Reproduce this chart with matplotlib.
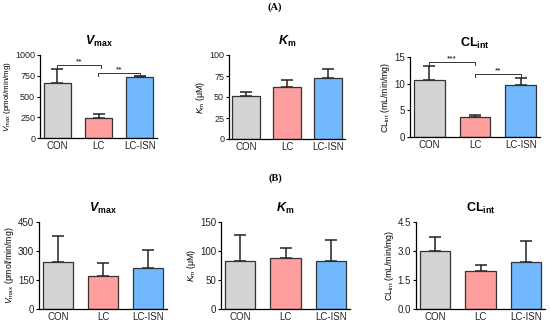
import numpy as np
import matplotlib
matplotlib.use("Agg")
import matplotlib.pyplot as plt

plt.rcParams["font.family"] = "Liberation Sans"
plt.rcParams["mathtext.fontset"] = "custom"
plt.rcParams["mathtext.rm"] = "Liberation Sans"
plt.rcParams["mathtext.it"] = "Liberation Sans:italic"
plt.rcParams["mathtext.bf"] = "Liberation Sans:bold"
plt.rcParams["mathtext.bfit"] = "Liberation Sans:bold:italic"

groups = ["CON", "LC", "LC-ISN"]
colors = ["#d4d4d4", "#ff9e9e", "#72b8ff"]

# (A)
a_vmax = [660, 240, 735]
a_vmax_err = [175, 55, 15]
a_km = [51, 62, 73]
a_km_err = [5.5, 8, 10.5]
a_cl = [10.7, 3.8, 9.8]
a_cl_err = [2.7, 0.4, 1.3]

# (B)
b_vmax = [245, 173, 210]
b_vmax_err = [135, 65, 95]
b_km = [82, 88, 82]
b_km_err = [46, 17, 37]
b_cl = [3.0, 1.95, 2.42]
b_cl_err = [0.7, 0.33, 1.1]

titles = [r"$\mathbfit{V}_{\mathbf{max}}$", r"$\mathbfit{K}_{\mathbf{m}}$", r"$\mathbf{CL}_{\mathbf{int}}$"]
ylabels = [r"$V_{\mathrm{max}}$ (pmol/min/mg)", r"$K_{\mathrm{m}}$ ($\mathrm{\mu}$M)",
           r"$\mathrm{CL}_{\mathrm{int}}$ (mL/min/mg)"]

W, H = 550, 325
fig = plt.figure(figsize=(5.5, 3.25), dpi=100)


def add_ax(left, right, bottom, top):
    return fig.add_axes([left / W, 1 - bottom / H, (right - left) / W, (bottom - top) / H])


def draw(ax, vals, errs, ymax, ticks, ticklabels, title, ylabel, tsize=7, lsize=6.3):
    x = np.arange(3)
    ax.bar(x, vals, width=0.67, color=colors, edgecolor="#333333", linewidth=0.9, zorder=2)
    ax.errorbar(x, vals, yerr=[np.zeros(3), errs], fmt="none", ecolor="#222222",
                elinewidth=1.1, capsize=4.3, capthick=1.1, zorder=1)
    ax.set_xlim(-0.42, 2.42)
    ax.set_ylim(0, ymax)
    ax.set_yticks(ticks)
    ax.set_yticklabels(ticklabels)
    ax.set_xticks(x)
    ax.set_xticklabels(groups)
    ax.tick_params(axis="x", length=0, labelsize=7, pad=2, colors="#222222")
    ax.tick_params(axis="y", length=2.5, width=0.8, labelsize=tsize, pad=1, labelcolor="#222222")
    for s in ["top", "right"]:
        ax.spines[s].set_visible(False)
    for s in ["left", "bottom"]:
        ax.spines[s].set_linewidth(0.9)
    ax.set_title(title, fontsize=9, pad=7)
    ax.set_ylabel(ylabel, fontsize=lsize, labelpad=1.5)


def bracket(ax, x1, x2, y, drop, text):
    ax.plot([x1, x1, x2, x2], [y - drop, y, y, y - drop], color="#333333", lw=0.7)
    ax.text((x1 + x2) / 2, y, text, ha="center", va="bottom", fontsize=6)


ax = add_ax(40, 157, 138, 55)
draw(ax, a_vmax, a_vmax_err, 1000, [0, 250, 500, 750, 1000],
     ["0", "250", "500", "750", "1000"], titles[0], ylabels[0], tsize=6.5, lsize=5.8)
bracket(ax, 0, 1.05, 880, 35, "**")
bracket(ax, 0.98, 2, 783, 35, "**")

ax = add_ax(229, 345, 139, 55)
draw(ax, a_km, a_km_err, 100, [0, 25, 50, 75, 100],
     ["0", "25", "50", "75", "100"], titles[1], ylabels[1], tsize=6.5)

ax = add_ax(410, 540, 137, 57)
draw(ax, a_cl, a_cl_err, 15, [0, 5, 10, 15],
     ["0", "5", "10", "15"], titles[2], ylabels[2])
bracket(ax, 0, 1, 14.06, 0.55, "***")
bracket(ax, 1, 2, 11.8, 0.55, "**")

ax = add_ax(39, 167, 309, 222)
draw(ax, b_vmax, b_vmax_err, 450, [0, 150, 300, 450],
     ["0", "150", "300", "450"], titles[0], ylabels[0])

ax = add_ax(221, 350, 309, 222)
draw(ax, b_km, b_km_err, 150, [0, 50, 100, 150],
     ["0", "50", "100", "150"], titles[1], ylabels[1])

ax = add_ax(416, 545, 309, 222)
draw(ax, b_cl, b_cl_err, 4.5, [0, 1.5, 3.0, 4.5],
     ["0.0", "1.5", "3.0", "4.5"], titles[2], ylabels[2])

fig.text(275 / W, 1 - 7 / H, "(A)", ha="center", va="center", fontsize=7.5,
         fontweight="bold", family="Liberation Serif")
fig.text(275 / W, 1 - 178 / H, "(B)", ha="center", va="center", fontsize=7.5,
         fontweight="bold", family="Liberation Serif")

fig.savefig("out.png", dpi=100, facecolor="white")
